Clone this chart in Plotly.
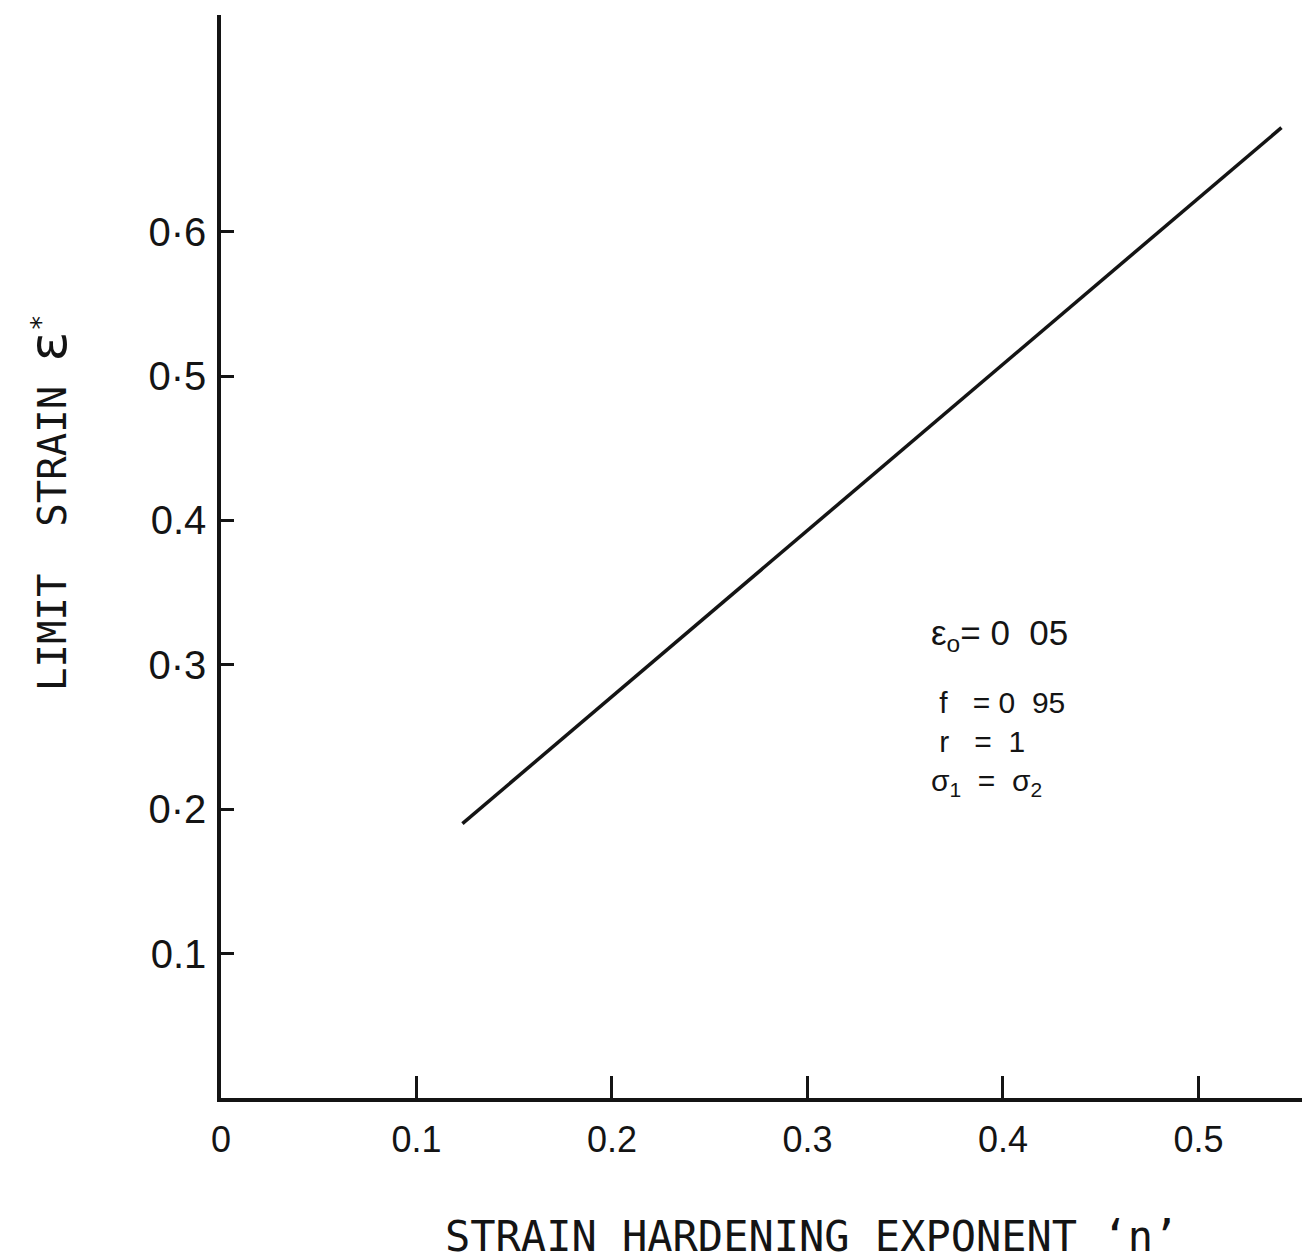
import plotly.graph_objects as go

# Data
n_values = [0.1235, 0.5425]
limit_strain = [0.190, 0.672]

x_tickvals = [0, 0.1, 0.2, 0.3, 0.4, 0.5]
x_ticktext = ["0", "0.1", "0.2", "0.3", "0.4", "0.5"]
y_tickvals = [0.1, 0.2, 0.3, 0.4, 0.5, 0.6]
y_ticktext = ["0.1", "0·2", "0·3", "0.4", "0·5", "0·6"]

x_title = "STRAIN HARDENING EXPONENT \u2018n\u2019"
y_title = "LIMIT  STRAIN <span style='font-size:52px'>\u03b5</span><sup>*</sup>"
param_head = "\u03b5<sub>o</sub>= 0\u00a0\u00a005"
param_lines = ["\u00a0f\u00a0\u00a0\u00a0=\u00a00\u00a0\u00a095",
               "\u00a0r\u00a0\u00a0\u00a0=\u00a0\u00a01",
               "\u03c3<sub>1</sub>\u00a0\u00a0=\u00a0\u00a0\u03c3<sub>2</sub>"]

ink = "#141414"

fig = go.Figure()
fig.add_trace(go.Scatter(x=n_values, y=limit_strain, mode="lines",
                         line=dict(color=ink, width=3.5), showlegend=False))

fig.update_layout(
    width=1302, height=1260,
    margin=dict(l=221, r=0, t=15, b=162),
    paper_bgcolor="white", plot_bgcolor="white",
    font=dict(family="Liberation Sans", color=ink),
)
fig.update_xaxes(range=[0, 0.553], showgrid=False, zeroline=False,
                 showline=True, linewidth=3.5, linecolor=ink,
                 tickmode="array", tickvals=x_tickvals, ticktext=x_ticktext,
                 ticks="inside", ticklen=22, tickwidth=2.5, tickcolor=ink,
                 ticklabelstandoff=7,
                 tickfont=dict(size=36, family="Liberation Sans", color=ink))
fig.update_yaxes(range=[0, 0.75], showgrid=False, zeroline=False,
                 showline=True, linewidth=3.5, linecolor=ink,
                 tickmode="array", tickvals=y_tickvals, ticktext=y_ticktext,
                 ticks="inside", ticklen=13, tickwidth=2.5, tickcolor=ink,
                 ticklabelstandoff=3,
                 tickfont=dict(size=40, family="Liberation Sans", color=ink))

# axis titles
fig.add_annotation(text=x_title, xref="paper", yref="paper",
                   x=(443 - 221) / 1081, y=-(1237 - 1098) / 1083,
                   showarrow=False, xanchor="left", yanchor="middle",
                   font=dict(size=42, family="DejaVu Sans Mono", color=ink))
fig.add_annotation(text=y_title, xref="paper", yref="paper",
                   x=-(221 - 48) / 1081, y=(1098 - 693) / 1083,
                   showarrow=False, textangle=-90, xanchor="center", yanchor="bottom",
                   font=dict(size=39, family="DejaVu Sans Mono", color=ink))

# parameter block
fig.add_annotation(text=param_head, x=0.3624, y=0.3206, xref="x", yref="y",
                   showarrow=False, xanchor="left", yanchor="middle",
                   font=dict(size=35, family="Liberation Sans", color=ink))
fig.add_annotation(text="<br>".join(param_lines), x=0.3624, y=0.2457, xref="x", yref="y",
                   showarrow=False, xanchor="left", yanchor="middle", align="left",
                   font=dict(size=30, family="Liberation Sans", color=ink))

fig.write_html("out.html")
